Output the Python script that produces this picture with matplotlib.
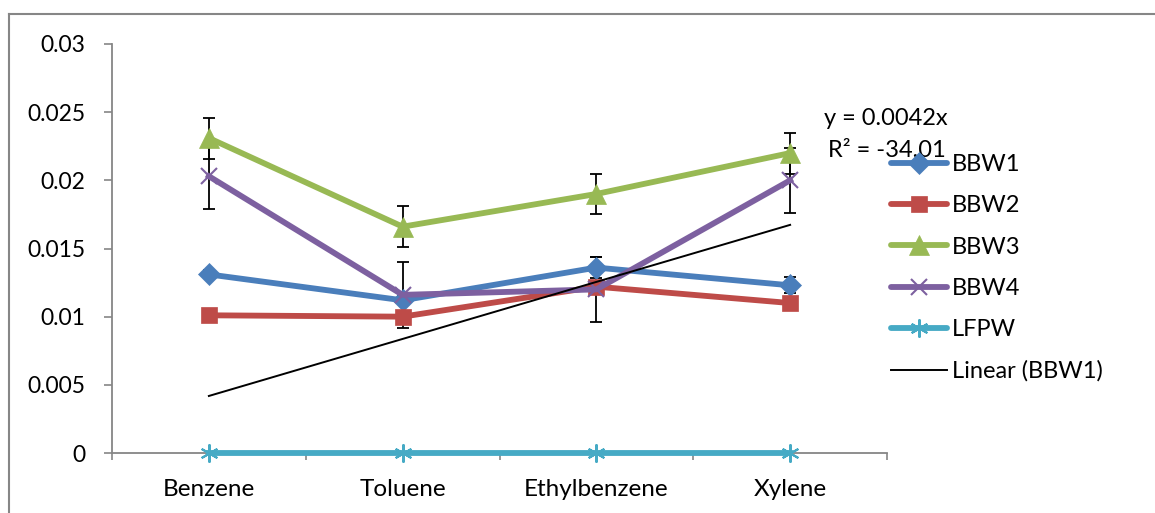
import numpy as np
import matplotlib
matplotlib.use("Agg")
import matplotlib.pyplot as plt
from matplotlib.lines import Line2D

plt.rcParams["font.family"] = ["Lato", "DejaVu Sans"]

# ── data ─────────────────────────────────────────────────────────────────────
categories = ["Benzene", "Toluene", "Ethylbenzene", "Xylene"]

bbw1 = [0.0131, 0.0112, 0.0136, 0.0123]
bbw2 = [0.0101, 0.0100, 0.0122, 0.0110]
bbw3 = [0.0231, 0.0166, 0.0190, 0.0220]
bbw4 = [0.0203, 0.0116, 0.0120, 0.0200]
lfpw = [0.0, 0.0, 0.0, 0.0]

bbw1_err = [0.0003, 0.0003, 0.0008, 0.0006]
bbw3_err = [0.0015, 0.0015, 0.0015, 0.0015]
bbw4_err = [0.0024, 0.0024, 0.0024, 0.0024]

r_squared = -34.01

yticks = [0, 0.005, 0.01, 0.015, 0.02, 0.025, 0.03]
ytick_labels = ["0", "0.005", "0.01", "0.015", "0.02", "0.025", "0.03"]

W, H = 1155, 513

# ── figure ───────────────────────────────────────────────────────────────────
fig = plt.figure(figsize=(W / 100, H / 100), dpi=100)
ax = fig.add_axes([112 / W, 1 - 453 / H, (887 - 112) / W, (453 - 44) / H])

x = np.arange(len(categories)) + 0.5

# name, values, errors, colour, marker, size, edge width
series = [
    ("BBW1", bbw1, bbw1_err, "#4A7EBB", "D", 11, 0.5),
    ("BBW2", bbw2, None, "#BE4B48", "s", 12, 0.5),
    ("BBW3", bbw3, bbw3_err, "#98B954", "^", 14, 0.5),
    ("BBW4", bbw4, bbw4_err, "#7D60A0", "x", 12, 1.5),
    ("LFPW", lfpw, None, "#46AAC5", (6, 2, 0), 13, 1.5),
]

handles = []
for name, vals, err, color, mk, ms, mew in series:
    if err is not None:
        ax.errorbar(x, vals, yerr=err, fmt="none", ecolor="black",
                    elinewidth=1.3, capsize=4, capthick=1.3, zorder=2)
    style = dict(color=color, lw=4.2, marker=mk, markersize=ms,
                 markeredgewidth=mew, markeredgecolor=color)
    ax.plot(x, vals, zorder=3, clip_on=False, **style)
    handles.append(Line2D([], [], label=name, solid_capstyle="round", **style))

# linear trendline through origin for BBW1
xi = np.arange(1, len(categories) + 1)
slope = np.sum(xi * np.array(bbw1)) / np.sum(xi ** 2)
ax.plot(x, slope * xi, color="black", lw=1.4, zorder=4)
handles.append(Line2D([], [], color="black", lw=1.4, label="Linear (BBW1)"))

fig.text(886 / W, 1 - 125 / H, f"y = {slope:.4f}x", ha="center",
         va="baseline", fontsize=17, zorder=5)
fig.text(887 / W, 1 - 157 / H, f"R\u00b2 = {r_squared:.2f}", ha="center",
         va="baseline", fontsize=17, zorder=5)

ax.set_xlim(0, 4)
ax.set_ylim(0, 0.03)
ax.set_yticks(yticks)
ax.set_yticklabels(ytick_labels, fontsize=16.5)
ax.set_xticks(x)
ax.set_xticklabels(categories, fontsize=17.5)
ax.set_xticks([0, 1, 2, 3, 4], minor=True)
ax.tick_params(axis="x", which="major", length=0, pad=19)
ax.tick_params(axis="x", which="minor", length=5, color="#868686", width=1.2)
ax.tick_params(axis="y", length=6, color="#868686", width=1.2, pad=13)
for s in ["top", "right"]:
    ax.spines[s].set_visible(False)
for s in ["left", "bottom"]:
    ax.spines[s].set_color("#868686")
    ax.spines[s].set_linewidth(1.3)

leg = fig.legend(handles=handles, loc="upper left",
                 bbox_to_anchor=(891 / W, 1 - 154 / H), frameon=False,
                 fontsize=17, handlelength=2.37, handletextpad=0.2,
                 labelspacing=0.86, borderaxespad=0, borderpad=0)

# outer chart border (top and left only visible)
fig.add_artist(Line2D([8.5 / W, 8.5 / W], [0, 1 - 13.5 / H],
                      transform=fig.transFigure, color="#868686", lw=1.5))
fig.add_artist(Line2D([8.5 / W, 1], [1 - 13.5 / H, 1 - 13.5 / H],
                      transform=fig.transFigure, color="#868686", lw=1.5))

fig.savefig("out.png", dpi=100, facecolor="white")
